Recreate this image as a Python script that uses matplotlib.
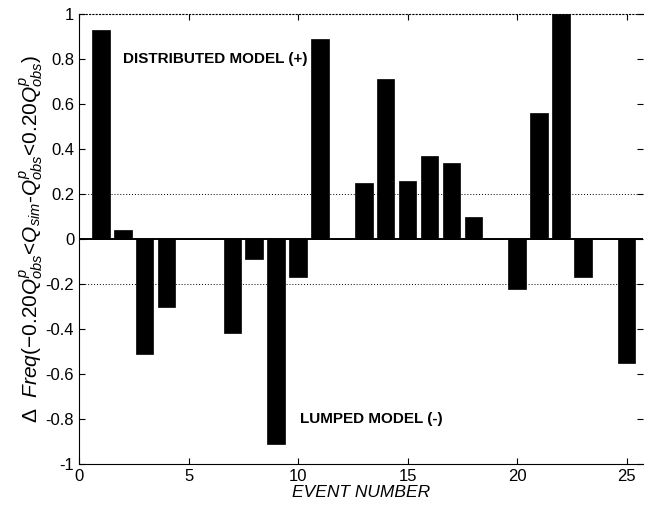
import matplotlib
matplotlib.use("Agg")
import matplotlib.pyplot as plt
import numpy as np

events = list(range(1, 26))
values = [0.93, 0.04, -0.51, -0.30, 0.0, 0.0, -0.42, -0.09, -0.91, -0.17,
          0.89, 0.0, 0.25, 0.71, 0.26, 0.37, 0.34, 0.10, 0.0, -0.22,
          0.56, 1.00, -0.17, 0.0, -0.55]
xticks = [0, 5, 10, 15, 20, 25]
yticks = [-1, -0.8, -0.6, -0.4, -0.2, 0, 0.2, 0.4, 0.6, 0.8, 1]
ytick_labels = ["-1", "-0.8", "-0.6", "-0.4", "-0.2", "0", "0.2", "0.4", "0.6", "0.8", "1"]

plt.rcParams['font.family'] = ['Liberation Sans', 'DejaVu Sans']
plt.rcParams['mathtext.fontset'] = 'custom'
plt.rcParams['mathtext.rm'] = 'Liberation Sans'
plt.rcParams['mathtext.it'] = 'Liberation Sans:italic'

fig = plt.figure(figsize=(6.45, 5.07), dpi=100)
ax = fig.add_axes([0.1225, 0.085, 0.8745, 0.887])

ax.bar(events, values, width=0.8, color='black', edgecolor='black', linewidth=0.5, zorder=3)
ax.axhline(0, color='black', linewidth=1.4, zorder=4)
for g in (0.2, -0.2):
    ax.axhline(g, color='black', linewidth=0.7, linestyle=(0, (1, 2)), zorder=2)

ax.set_xlim(0, 25.75)
ax.set_ylim(-1, 1)
ax.set_xticks(xticks)
ax.set_yticks(yticks)
ax.set_yticklabels(ytick_labels)
ax.tick_params(direction='in', top=True, right=True, labelsize=12, length=4, width=0.8)

ax.spines['top'].set_linestyle((0, (1, 2)))
ax.spines['left'].set_linestyle((0, (2, 1)))
ax.spines['right'].set_visible(False)
for s in ax.spines.values():
    s.set_linewidth(0.8)

ax.text(2.0, 0.80, "DISTRIBUTED MODEL (+)", fontsize=11, fontweight='bold', va='center', ha='left')
ax.text(10.1, -0.80, "LUMPED MODEL (-)", fontsize=11, fontweight='bold', va='center', ha='left')

ax.set_xlabel("EVENT NUMBER", fontsize=12.5, style='italic', labelpad=1)
ax.set_ylabel(r"$\Delta\ \ Freq(-0.20Q^{p}_{obs}$<$Q_{sim}$-$Q^{p}_{obs}$<$0.20Q^{p}_{obs})$",
              fontsize=15, labelpad=0)

fig.savefig("out.png", dpi=100)
